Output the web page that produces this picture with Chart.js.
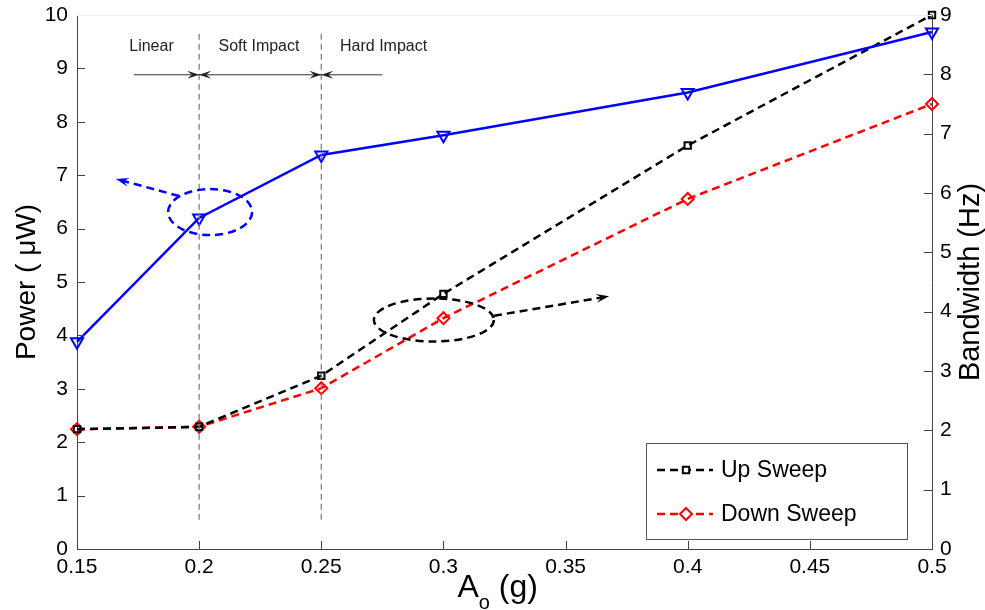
<!DOCTYPE html>
<html>
<head>
<meta charset="utf-8">
<script src="https://cdn.jsdelivr.net/npm/chart.js@4.4.0/dist/chart.umd.min.js"></script>
<style>
  html, body { margin: 0; padding: 0; background: #fff; }
  #wrap { width: 985px; height: 610px; }
</style>
</head>
<body>
<div id="wrap"><canvas id="powerChart"></canvas></div>
<script>
// values
const amplitude = [0.15, 0.2, 0.25, 0.3, 0.4, 0.5];
const power = [3.88, 6.2, 7.38, 7.75, 8.55, 9.68];        // uW, left axis
const upSweep = [2.02, 2.06, 2.92, 4.3, 6.8, 9.0];        // Hz, right axis
const downSweep = [2.02, 2.06, 2.71, 3.89, 5.9, 7.5];     // Hz, right axis
const xTicks = [0.15, 0.2, 0.25, 0.3, 0.35, 0.4, 0.45, 0.5];

// regime annotations (x in g, text in the top band)
const regimeBounds = [0.2, 0.25];
const regimeLabels = ['Linear', 'Soft Impact', 'Hard Impact'];
const regimeLabelX = [0.1805, 0.2245, 0.2755];

const FONT = "'Liberation Sans', Arial, sans-serif";

const pts = (ys) => amplitude.map((x, i) => ({ x: x, y: ys[i] }));

function arrowHead(c, x1, y1, x2, y2, len, wid) {
    const a = Math.atan2(y2 - y1, x2 - x1);
    c.save();
    c.translate(x2, y2);
    c.rotate(a);
    c.setLineDash([]);
    c.beginPath();
    c.moveTo(0, 0);
    c.lineTo(-len, -wid / 2);
    c.lineTo(-len * 0.6, 0);
    c.lineTo(-len, wid / 2);
    c.closePath();
    c.fill();
    c.restore();
}

function noPad(s) {
    s.paddingTop = 0; s.paddingBottom = 0;
    s.paddingLeft = 0; s.paddingRight = 0;
}

const extras = {
    id: 'extras',
    afterDraw(chart) {
        const c = chart.ctx;
        const xs = chart.scales.x, yl = chart.scales.y, yr = chart.scales.y1;
        const area = chart.chartArea;

        // inward tick marks
        c.save();
        c.strokeStyle = '#444';
        c.lineWidth = 1;
        c.setLineDash([]);
        c.beginPath();
        xs.ticks.forEach(t => {
            const px = Math.round(xs.getPixelForValue(t.value)) + 0.5;
            c.moveTo(px, area.bottom); c.lineTo(px, area.bottom - 8);
        });
        yl.ticks.forEach(t => {
            const py = Math.round(yl.getPixelForValue(t.value)) + 0.5;
            c.moveTo(area.left, py); c.lineTo(area.left + 8, py);
        });
        yr.ticks.forEach(t => {
            const py = Math.round(yr.getPixelForValue(t.value)) + 0.5;
            c.moveTo(area.right, py); c.lineTo(area.right - 8, py);
        });
        c.stroke();
        c.strokeStyle = '#eee';
        c.beginPath();
        c.moveTo(area.left, area.top + 0.5); c.lineTo(area.right, area.top + 0.5);
        c.stroke();
        c.restore();

        // regime separators
        c.save();
        c.strokeStyle = '#777';
        c.lineWidth = 1.2;
        c.setLineDash([6, 4]);
        regimeBounds.forEach(b => {
            const px = xs.getPixelForValue(b);
            c.beginPath();
            c.moveTo(px, yl.getPixelForValue(9.65));
            c.lineTo(px, yl.getPixelForValue(0.5));
            c.stroke();
        });
        c.fillStyle = '#222';
        c.font = '16px ' + FONT;
        c.textAlign = 'center';
        c.textBaseline = 'middle';
        regimeLabels.forEach((t, i) => {
            c.fillText(t, xs.getPixelForValue(regimeLabelX[i]), yl.getPixelForValue(9.4));
        });
        // regime arrows
        const ay = yl.getPixelForValue(8.88);
        const p0 = xs.getPixelForValue(0.1733), p1 = xs.getPixelForValue(0.2),
              p2 = xs.getPixelForValue(0.25), p3 = xs.getPixelForValue(0.275);
        c.setLineDash([]);
        c.strokeStyle = '#333';
        c.fillStyle = '#222';
        c.lineWidth = 1;
        c.beginPath();
        c.moveTo(p0, ay); c.lineTo(p3, ay);
        c.stroke();
        arrowHead(c, p0, ay, p1, ay, 12, 8);
        arrowHead(c, p2, ay, p1, ay, 12, 8);
        arrowHead(c, p1, ay, p2, ay, 12, 8);
        arrowHead(c, p3, ay, p2, ay, 12, 8);
        c.restore();

        // blue ellipse + arrow pointing to the power axis
        c.save();
        c.lineWidth = 2.5;
        c.setLineDash([8, 5]);
        c.strokeStyle = '#0000ff';
        c.fillStyle = '#0000ff';
        c.beginPath();
        c.ellipse(xs.getPixelForValue(0.2045), yl.getPixelForValue(6.31), 42, 23, 0, 0, Math.PI * 2);
        c.stroke();
        let bx1 = xs.getPixelForValue(0.1918), by1 = yl.getPixelForValue(6.61);
        let bx2 = xs.getPixelForValue(0.166), by2 = yl.getPixelForValue(6.93);
        c.beginPath(); c.moveTo(bx1, by1); c.lineTo(bx2, by2); c.stroke();
        arrowHead(c, bx1, by1, bx2, by2, 13, 9);

        // black ellipse + arrow pointing to the bandwidth axis
        c.strokeStyle = '#000';
        c.fillStyle = '#000';
        c.beginPath();
        c.ellipse(xs.getPixelForValue(0.2961), yr.getPixelForValue(3.86), 60, 21.5, 0, 0, Math.PI * 2);
        c.stroke();
        bx1 = xs.getPixelForValue(0.3207); by1 = yr.getPixelForValue(3.93);
        bx2 = xs.getPixelForValue(0.3678); by2 = yr.getPixelForValue(4.26);
        c.beginPath(); c.moveTo(bx1, by1); c.lineTo(bx2, by2); c.stroke();
        arrowHead(c, bx1, by1, bx2, by2, 13, 9);
        c.restore();

        // x axis title with subscript
        c.save();
        c.fillStyle = '#000';
        c.textBaseline = 'alphabetic';
        c.textAlign = 'left';
        let tx = (area.left + area.right) / 2 - 47;
        c.font = '32px ' + FONT;
        const wA = c.measureText('A').width;
        c.fillText('A', tx, 597);
        c.font = '20px ' + FONT;
        const wo = c.measureText('o').width;
        c.fillText('o', tx + wA, 609);
        c.font = '32px ' + FONT;
        c.fillText(' (g)', tx + wA + wo, 597);
        c.restore();

        // right axis title, reading bottom to top
        c.save();
        c.fillStyle = '#000';
        c.font = '29px ' + FONT;
        c.textAlign = 'center';
        c.textBaseline = 'middle';
        c.translate(971, (area.top + area.bottom) / 2);
        c.rotate(-Math.PI / 2);
        c.fillText('Bandwidth (Hz)', 0, 0);
        c.restore();

        // legend
        c.save();
        const lx = 646, ly = 443, lw = 261, lh = 96;
        c.fillStyle = '#fff';
        c.fillRect(lx, ly, lw, lh);
        c.strokeStyle = '#555';
        c.lineWidth = 1;
        c.strokeRect(lx + 0.5, ly + 0.5, lw, lh);
        chart.data.datasets.slice(1).forEach((ds, i) => {
            const yy = ly + 27 + i * 44;
            c.strokeStyle = ds.borderColor;
            c.lineWidth = 2.5;
            c.setLineDash(ds.borderDash);
            c.beginPath(); c.moveTo(lx + 11, yy); c.lineTo(lx + 67, yy); c.stroke();
            c.setLineDash([]);
            c.lineWidth = 2;
            c.fillStyle = '#fff';
            Chart.helpers.drawPoint(c, {
                pointStyle: ds.pointStyle, radius: ds.pointRadius, rotation: 0,
                borderWidth: 2
            }, lx + 40, yy);
            c.fillStyle = '#000';
            c.font = '23px ' + FONT;
            c.textBaseline = 'middle';
            c.fillText(ds.label, lx + 75, yy + 1);
        });
        c.restore();
    }
};

new Chart(document.getElementById('powerChart'), {
    type: 'line',
    data: {
        datasets: [{
            label: 'Power',
            data: pts(power),
            yAxisID: 'y',
            clip: false,
            borderColor: '#0000ff',
            borderWidth: 2.5,
            pointStyle: 'triangle',
            pointRotation: 180,
            pointRadius: 7,
            pointBorderWidth: 2,
            pointBorderColor: '#0000ff',
            pointBackgroundColor: 'rgba(0,0,0,0)',
            borderDash: []
        }, {
            label: 'Up Sweep',
            data: pts(upSweep),
            yAxisID: 'y1',
            clip: false,
            borderColor: '#000000',
            borderWidth: 2.5,
            borderDash: [8, 5],
            pointStyle: 'rect',
            pointRadius: 4.5,
            pointBorderWidth: 2,
            pointBorderColor: '#000000',
            pointBackgroundColor: 'rgba(0,0,0,0)'
        }, {
            label: 'Down Sweep',
            data: pts(downSweep),
            yAxisID: 'y1',
            clip: false,
            borderColor: '#ff0000',
            borderWidth: 2.5,
            borderDash: [8, 5],
            pointStyle: 'rectRot',
            pointRadius: 6,
            pointBorderWidth: 2,
            pointBorderColor: '#ff0000',
            pointBackgroundColor: 'rgba(0,0,0,0)'
        }]
    },
    options: {
        responsive: true,
        maintainAspectRatio: false,
        animation: false,
        layout: { padding: { top: 15, left: 0, right: 0, bottom: 0 } },
        plugins: {
            legend: { display: false },
            tooltip: { enabled: false }
        },
        scales: {
            x: {
                type: 'linear',
                min: 0.15,
                max: 0.5,
                afterBuildTicks: (s) => { s.ticks = xTicks.map(v => ({ value: v })); },
                afterFit: (s) => { s.height = 61; noPad(s); },
                grid: { display: false, drawTicks: false },
                border: { display: true, color: '#444', width: 1 },
                ticks: {
                    color: '#000',
                    padding: 6,
                    maxRotation: 0,
                    font: { family: FONT, size: 21 },
                    callback: (v) => String(Number(v.toFixed(2)))
                },
                title: { display: false }
            },
            y: {
                position: 'left',
                min: 0,
                max: 10,
                afterFit: (s) => { s.width = 77; noPad(s); },
                grid: { display: false, drawTicks: false },
                border: { display: true, color: '#444', width: 1 },
                ticks: {
                    stepSize: 1,
                    color: '#000',
                    padding: 9,
                    font: { family: FONT, size: 21 }
                },
                title: {
                    display: true,
                    text: 'Power ( \u03bcW)',
                    color: '#000',
                    padding: { top: 10, bottom: 0 },
                    font: { family: FONT, size: 28 }
                }
            },
            y1: {
                position: 'right',
                min: 0,
                max: 9,
                afterFit: (s) => { s.width = 53; noPad(s); },
                grid: { display: false, drawTicks: false },
                border: { display: true, color: '#444', width: 1 },
                ticks: {
                    stepSize: 1,
                    color: '#000',
                    padding: 8,
                    font: { family: FONT, size: 21 }
                },
                title: { display: false }
            }
        }
    },
    plugins: [extras]
});
</script>
</body>
</html>
